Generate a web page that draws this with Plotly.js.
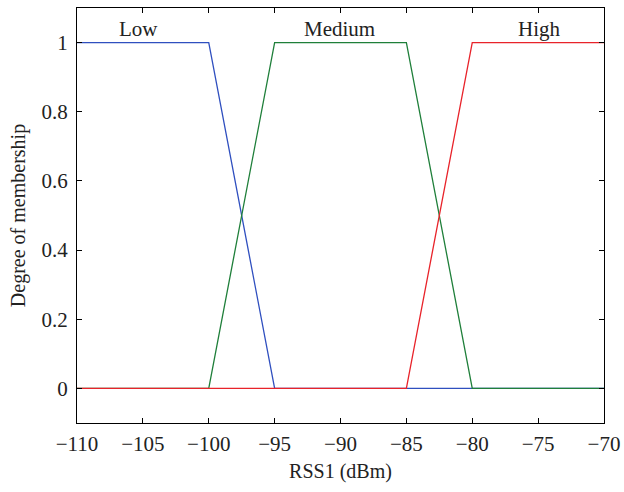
<!DOCTYPE html>
<html>
<head>
<meta charset="utf-8">
<script src="https://cdn.plot.ly/plotly-3.0.1.min.js"></script>
<style>html,body{margin:0;padding:0;background:#fff;}#chart{width:624px;height:492px;}</style>
</head>
<body>
<div id="chart"></div>
<script>
const lowX = [-110, -100, -95, -70];
const lowY = [1, 1, 0, 0];
const medX = [-110, -100, -95, -85, -80, -70];
const medY = [0, 0, 1, 1, 0, 0];
const highX = [-110, -85, -80, -70];
const highY = [0, 0, 1, 1];
const labelNames = ['Low', 'Medium', 'High'];
const labelX = [-105.3, -90.1, -74.9];
const labelY = [1.04, 1.04, 1.04];
const xTicks = [-110, -105, -100, -95, -90, -85, -80, -75, -70];
const yTicks = [0, 0.2, 0.4, 0.6, 0.8, 1];

const font = '"Liberation Serif", serif';
const traces = [
  {x: lowX, y: lowY, mode: 'lines', line: {color: '#2f4fbf', width: 1.3}, name: 'Low'},
  {x: medX, y: medY, mode: 'lines', line: {color: '#1f7f3a', width: 1.3}, name: 'Medium'},
  {x: highX, y: highY, mode: 'lines', line: {color: '#e8232a', width: 1.3}, name: 'High'}
];
const annotations = labelNames.map((t, i) => ({
  x: labelX[i], y: labelY[i], xref: 'x', yref: 'y', text: t, showarrow: false,
  font: {family: font, size: 21, color: '#222'}, xanchor: 'center', yanchor: 'middle'
}));
const layout = {
  width: 624, height: 492,
  margin: {l: 77, r: 20, t: 8, b: 69},
  paper_bgcolor: '#fff', plot_bgcolor: '#fff',
  showlegend: false,
  font: {family: font, size: 20, color: '#222'},
  xaxis: {
    range: [-110, -70], tickvals: xTicks, ticks: 'inside', ticklen: 5, tickcolor: '#000',
    showline: true, linecolor: '#000', linewidth: 1, mirror: 'ticks', zeroline: false, showgrid: false,
    tickfont: {family: font, size: 21, color: '#222'}, ticklabelstandoff: 2,
    title: {text: 'RSS1 (dBm)', font: {family: font, size: 20, color: '#222'}, standoff: 8}
  },
  yaxis: {
    range: [-0.1, 1.1], tickvals: yTicks, ticks: 'inside', ticklen: 5, tickcolor: '#000',
    showline: true, linecolor: '#000', linewidth: 1, mirror: 'ticks', zeroline: false, showgrid: false,
    tickfont: {family: font, size: 21, color: '#222'}, ticklabelstandoff: 4,
    title: {text: 'Degree of membership', font: {family: font, size: 20, color: '#222'}, standoff: 10}
  },
  annotations: annotations
};
Plotly.newPlot('chart', traces, layout, {displayModeBar: false, staticPlot: true});
</script>
</body>
</html>
